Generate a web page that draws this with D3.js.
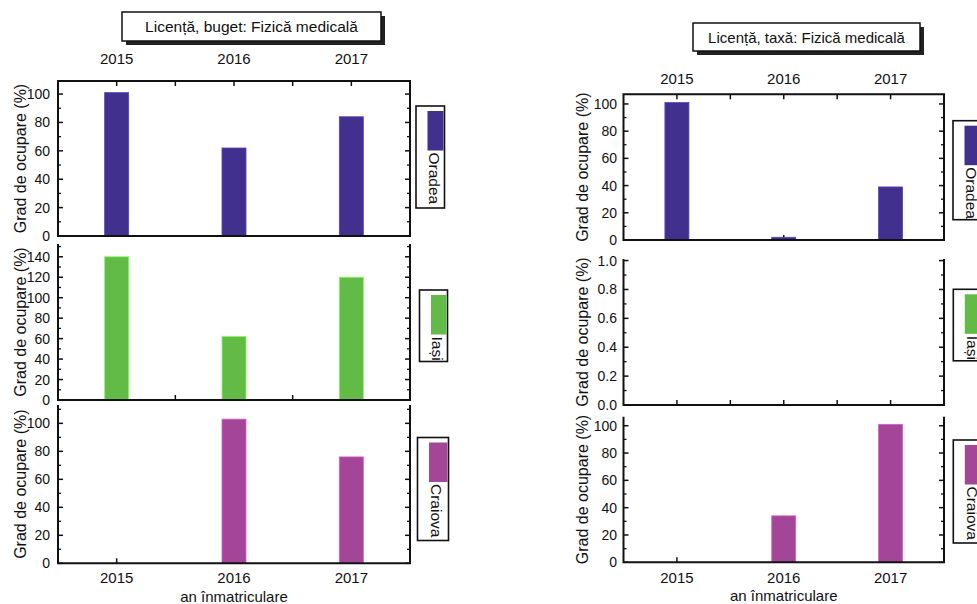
<!DOCTYPE html>
<html><head><meta charset="utf-8">
<script src="https://cdn.jsdelivr.net/npm/d3@7"></script>
<style>
body{margin:0;background:#fff}
text{font-family:"Liberation Sans",Arial,Helvetica,sans-serif;fill:#111}
</style>
</head><body>
<svg id="c" width="977" height="604"></svg>
<script>
// ---------- data ----------
const years = [2015, 2016, 2017];
const cities = ["Oradea", "Iași", "Craiova"];
const cityColors = ["#42308f", "#63bb47", "#a34698"];
const bugetOradea = [101, 62, 84];
const bugetIasi = [140, 62, 120];
const bugetCraiova = [0, 103, 76];
const taxaOradea = [101, 2, 39];
const taxaIasi = [0, 0, 0];
const taxaCraiova = [0, 34, 101];
const titles = ["Licență, buget: Fizică medicală", "Licență, taxă: Fizică medicală"];
const yLabel = "Grad de ocupare (%)";
const xLabel = "an înmatriculare";
const bugetTicks = [[0, 20, 40, 60, 80, 100], [0, 20, 40, 60, 80, 100, 120, 140], [0, 20, 40, 60, 80, 100]];
const taxaTicks = [[0, 20, 40, 60, 80, 100], [0, 0.2, 0.4, 0.6, 0.8, 1.0], [0, 20, 40, 60, 80, 100]];

// ---------- layout ----------
const panels = [
  {
    series: [bugetOradea, bugetIasi, bugetCraiova], ticks: bugetTicks, title: titles[0],
    x0: 58, x1: 410, titleBox: {x: 122, y: 12, w: 259, h: 29, fs: 15.5},
    topLabelY: 58, botLabelY: 577.5, xLabelY: 596, yLabelX: 20, tickLabelX: 50,
    subs: [{y0: 81, y1: 236, max: 109.2}, {y0: 244, y1: 400, max: 152.5}, {y0: 405, y1: 563.3, max: 113.1}],
    legends: [{x: 416, y: 106, w: 28.5, h: 102}, {x: 419.5, y: 290, w: 28, h: 71.5}, {x: 417.5, y: 437.5, w: 31, h: 103}]
  },
  {
    series: [taxaOradea, taxaIasi, taxaCraiova], ticks: taxaTicks, title: titles[1],
    x0: 623.5, x1: 944, titleBox: {x: 693, y: 23, w: 227, h: 28, fs: 15},
    topLabelY: 78, botLabelY: 577, xLabelY: 595.5, yLabelX: 582, tickLabelX: 617,
    subs: [{y0: 94.3, y1: 240, max: 107.1}, {y0: 259, y1: 405, max: 1.011}, {y0: 416.7, y1: 562.3, max: 106.6}],
    legends: [{x: 953, y: 120.7, w: 30, h: 99}, {x: 953.3, y: 289.3, w: 30, h: 71.5}, {x: 953.3, y: 440, w: 30, h: 103}]
  }
];

const svg = d3.select("#c");
const AX = "#111";

panels.forEach((p, pi) => {
  const g = svg.append("g");
  const x = d3.scaleLinear().domain([2014.5, 2017.5]).range([p.x0, p.x1]);
  const halfYears = d3.range(2015, 2017.01, 0.5);

  // title box with shadow
  const tb = p.titleBox;
  g.append("rect").attr("x", tb.x + 4).attr("y", tb.y + 4).attr("width", tb.w).attr("height", tb.h).attr("fill", "#222");
  g.append("rect").attr("x", tb.x).attr("y", tb.y).attr("width", tb.w).attr("height", tb.h)
    .attr("fill", "#fff").attr("stroke", "#111").attr("stroke-width", 1.5);
  g.append("text").attr("x", tb.x + tb.w / 2).attr("y", tb.y + tb.h / 2).attr("text-anchor", "middle")
    .attr("dominant-baseline", "central").attr("font-size", tb.fs).text(p.title);

  // top year labels
  g.selectAll(".ty").data(years).join("text").attr("x", d => x(d)).attr("y", p.topLabelY)
    .attr("text-anchor", "middle").attr("dominant-baseline", "central").attr("font-size", 15).text(d => d);
  // bottom year labels
  g.selectAll(".by").data(years).join("text").attr("x", d => x(d)).attr("y", p.botLabelY)
    .attr("text-anchor", "middle").attr("dominant-baseline", "central").attr("font-size", 15).text(d => d);
  g.append("text").attr("x", (p.x0 + p.x1) / 2).attr("y", p.xLabelY).attr("text-anchor", "middle")
    .attr("dominant-baseline", "central").attr("font-size", 15).text(xLabel);

  p.subs.forEach((s, si) => {
    const sg = g.append("g");
    const y = d3.scaleLinear().domain([0, s.max]).range([s.y1, s.y0]);
    const ticks = p.ticks[si];
    const step = ticks[1] - ticks[0];
    const minor = d3.range(step / 2, s.max, step).filter(v => !ticks.some(t => Math.abs(t - v) < 1e-9));
    const fmt = step < 1 ? d3.format(".1f") : d3.format("d");

    // y ticks (left & right, inward)
    ticks.forEach(t => {
      sg.append("line").attr("x1", p.x0).attr("x2", p.x0 + 5).attr("y1", y(t)).attr("y2", y(t)).attr("stroke", AX).attr("stroke-width", 1.5);
      sg.append("line").attr("x1", p.x1).attr("x2", p.x1 - 5).attr("y1", y(t)).attr("y2", y(t)).attr("stroke", AX).attr("stroke-width", 1.5);
      sg.append("text").attr("x", p.tickLabelX).attr("y", y(t)).attr("text-anchor", "end")
        .attr("dominant-baseline", "central").attr("font-size", 14).text(fmt(t));
    });
    minor.forEach(t => {
      sg.append("line").attr("x1", p.x0).attr("x2", p.x0 + 3).attr("y1", y(t)).attr("y2", y(t)).attr("stroke", AX).attr("stroke-width", 1.3);
      sg.append("line").attr("x1", p.x1).attr("x2", p.x1 - 3).attr("y1", y(t)).attr("y2", y(t)).attr("stroke", AX).attr("stroke-width", 1.3);
    });

    // x ticks
    if (si === 0) {
      halfYears.forEach(v => sg.append("line").attr("x1", x(v)).attr("x2", x(v)).attr("y1", s.y0).attr("y2", s.y0 + 5).attr("stroke", AX).attr("stroke-width", 1.5));
      years.forEach(v => sg.append("line").attr("x1", x(v)).attr("x2", x(v)).attr("y1", s.y1).attr("y2", s.y1 - 5).attr("stroke", AX).attr("stroke-width", 1.5));
    } else if (si === 1) {
      halfYears.forEach(v => sg.append("line").attr("x1", x(v)).attr("x2", x(v)).attr("y1", s.y1).attr("y2", s.y1 - 5).attr("stroke", AX).attr("stroke-width", 1.5));
    } else {
      years.forEach(v => sg.append("line").attr("x1", x(v)).attr("x2", x(v)).attr("y1", s.y1).attr("y2", s.y1 - 5).attr("stroke", AX).attr("stroke-width", 1.5));
    }

    // bars
    const vals = p.series[si];
    sg.selectAll("rect.bar").data(years.map((yr, i) => ({yr, v: vals[i]})).filter(d => d.v > 0)).join("rect")
      .attr("class", "bar")
      .attr("x", d => x(d.yr) - 12).attr("width", 24)
      .attr("y", d => y(d.v)).attr("height", d => y(0) - y(d.v))
      .attr("fill", cityColors[si])
      .attr("stroke", d3.color(cityColors[si]).brighter(0.8)).attr("stroke-width", 0.8);

    // frame
    const path = si === 0
      ? `M${p.x0},${s.y1}V${s.y0}H${p.x1}V${s.y1}Z`
      : `M${p.x0},${s.y0}V${s.y1}H${p.x1}V${s.y0}`;
    sg.append("path").attr("d", path).attr("fill", "none").attr("stroke", AX).attr("stroke-width", 2);

    // y label
    sg.append("text").attr("transform", `translate(${p.yLabelX},${(s.y0 + s.y1) / 2}) rotate(-90)`)
      .attr("text-anchor", "middle").attr("dominant-baseline", "central").attr("font-size", 16).text(yLabel);

    // legend
    const L = p.legends[si];
    sg.append("rect").attr("x", L.x).attr("y", L.y).attr("width", L.w).attr("height", L.h)
      .attr("fill", "#fff").attr("stroke", AX).attr("stroke-width", 1.6);
    const sx = L.x + 11.5, sw = L.w - 12.5;
    sg.append("rect").attr("x", sx).attr("y", L.y + 5).attr("width", sw).attr("height", 39.5).attr("fill", cityColors[si]);
    sg.append("text").attr("transform", `translate(${sx + sw / 2 - 1.5},${L.y + 46.5}) rotate(90)`)
      .attr("text-anchor", "start").attr("dominant-baseline", "central").attr("font-size", 15.5).text(cities[si]);
  });
});
</script>
</body></html>
